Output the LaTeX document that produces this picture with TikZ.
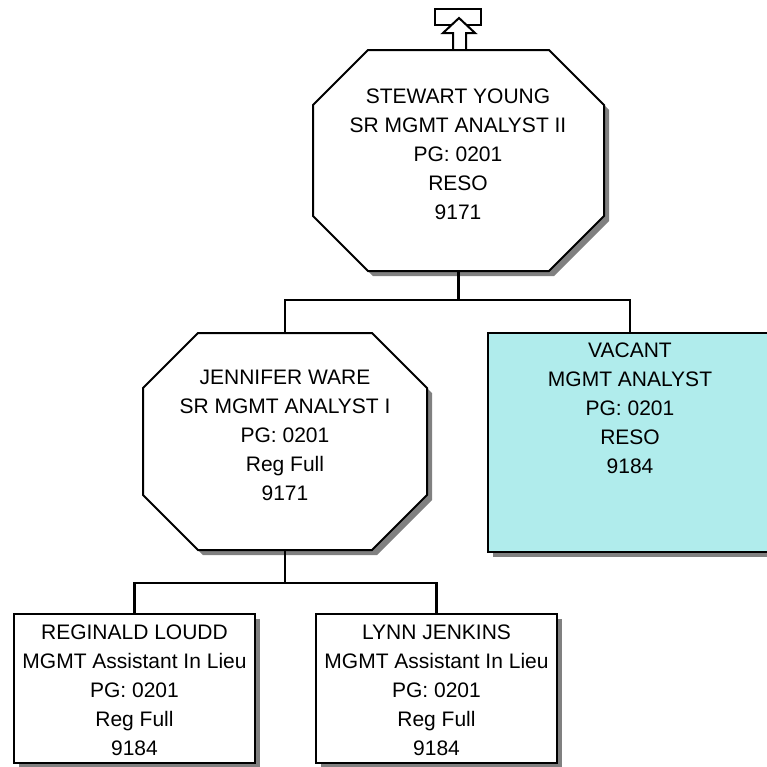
\documentclass[tikz,border=0pt]{standalone}
\usepackage{fontspec}
\setmainfont{Liberation Sans}
\usetikzlibrary{shadows}
\definecolor{vacantfill}{RGB}{176,236,236}
\definecolor{shadowgray}{RGB}{128,128,128}
\def\octcut{55pt}
% Octagon drawn around the corners of a named frame node
\newcommand\octagonshape[2]{%
  \path[#1] ([xshift=\octcut]#2.north west) -- ([xshift=-\octcut]#2.north east)
    -- ([yshift=-\octcut]#2.north east) -- ([yshift=\octcut]#2.south east)
    -- ([xshift=-\octcut]#2.south east) -- ([xshift=\octcut]#2.south west)
    -- ([yshift=\octcut]#2.south west) -- ([yshift=-\octcut]#2.north west) -- cycle;}
\begin{document}
\begin{tikzpicture}[x=1pt,y=-1pt,
  frame/.style={inner sep=0pt, outer sep=0pt, draw=none},
  outline/.style={draw, line width=2pt, line join=miter,
    drop shadow={shadow xshift=5pt, shadow yshift=-5pt, fill=shadowgray, opacity=1}},
  boxnode/.style={frame, outline, fill=white},
  label/.style={align=center, inner sep=0pt, font=\fontsize{21}{29}\selectfont},
  wire/.style={line width=2.2pt, line join=miter}]
\clip (0,0) rectangle (767,766);
\useasboundingbox (0,0) rectangle (767,766);

% top marker: box with an upward arrow
\draw[line width=2.2pt] (435,9) rectangle (481,25);
\filldraw[fill=white, line width=2pt, line join=miter]
  (453,50) -- (453,33) -- (443,33) -- (459,18) -- (475,33) -- (466,33) -- (466,50);

% frames
\node[frame, minimum width=291pt, minimum height=221pt] (sy) at (458.5,160.5) {};
\node[frame, minimum width=284pt, minimum height=217pt] (jw) at (285,441.5) {};
\node[boxnode, fill=vacantfill, minimum width=284pt, minimum height=219pt] (va) at (630,442.5) {};
\node[boxnode, minimum width=241pt, minimum height=149pt] (rl) at (134.5,688.5) {};
\node[boxnode, minimum width=241pt, minimum height=149pt] (lj) at (436.5,688.5) {};

\octagonshape{outline, fill=white}{sy}
\octagonshape{outline, fill=white}{jw}

% texts
\node[label] (sy-t) at (458,154.5) {STEWART YOUNG\\SR MGMT ANALYST II\\PG: 0201\\RESO\\9171};
\node[label] (jw-t) at (285,435) {JENNIFER WARE\\SR MGMT ANALYST I\\PG: 0201\\Reg Full\\9171};
\node[label] (va-t) at (630,408) {VACANT\\MGMT ANALYST\\PG: 0201\\RESO\\9184};
\node[label] (rl-t) at (134.5,690) {REGINALD LOUDD\\MGMT Assistant In Lieu\\PG: 0201\\Reg Full\\9184};
\node[label] (lj-t) at (436.5,690) {LYNN JENKINS\\MGMT Assistant In Lieu\\PG: 0201\\Reg Full\\9184};

% connectors
\coordinate (bus1) at (458.5,300);
\coordinate (bus2) at (285,583);
\draw[wire] (sy.south) -- (sy.south |- bus1);
\draw[wire] (jw.north) |- (bus1) -| (va.north);
\draw[wire] (jw.south) -- (jw.south |- bus2);
\draw[wire] (rl.north) |- (bus2) -| (lj.north);
\end{tikzpicture}
\end{document}
